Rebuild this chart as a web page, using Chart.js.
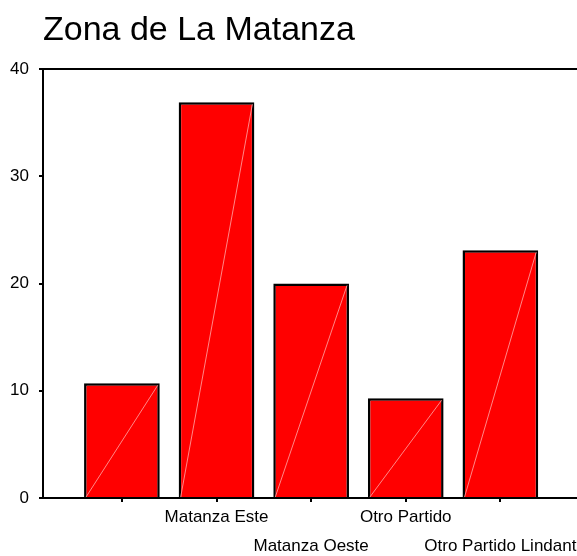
<!DOCTYPE html>
<html>
<head>
<meta charset="utf-8">
<script src="https://cdn.jsdelivr.net/npm/chart.js@4.4.1/dist/chart.umd.min.js"></script>
<style>
  html, body { margin: 0; padding: 0; background: #fff; }
  #wrap { width: 577px; height: 556px; }
</style>
</head>
<body>
<div id="wrap"><canvas id="chart"></canvas></div>
<script>
// Zona de La Matanza - percentages per zone
const zonas = ['', 'Matanza Este', 'Matanza Oeste', 'Otro Partido', 'Otro Partido Lindant'];
const porcentajes = [10.7, 36.9, 20.0, 9.3, 23.1];
const yTicks = [0, 10, 20, 30, 40];

const FONT = '"Liberation Sans", Arial, sans-serif';

// faint diagonal line across each bar (bottom-left to top-right)
const diagonalPlugin = {
    id: 'diagonal',
    afterDatasetsDraw(chart) {
        const ctx = chart.ctx;
        const meta = chart.getDatasetMeta(0);
        ctx.save();
        ctx.strokeStyle = 'rgba(255, 150, 150, 0.9)';
        ctx.lineWidth = 1;
        meta.data.forEach(bar => {
            const p = bar.getProps(['x', 'y', 'base', 'width'], true);
            ctx.beginPath();
            ctx.moveTo(p.x - p.width / 2 + 2, p.base);
            ctx.lineTo(p.x + p.width / 2 - 2, p.y + 2);
            ctx.stroke();
        });
        ctx.restore();
    }
};

new Chart(document.getElementById('chart'), {
    type: 'bar',
    data: {
        datasets: [{
            data: porcentajes.map((v, i) => ({ x: i, y: v })),
            backgroundColor: '#ff0000',
            borderColor: '#000000',
            borderWidth: { top: 2.5, left: 2.5, right: 2.5, bottom: 0 },
            borderSkipped: 'start',
            categoryPercentage: 1,
            barPercentage: 0.8
        }]
    },
    options: {
        responsive: true,
        maintainAspectRatio: false,
        animation: false,
        layout: { padding: 0 },
        plugins: {
            legend: { display: false },
            tooltip: { enabled: false },
            title: {
                display: true,
                text: 'Zona de La Matanza',
                align: 'start',
                fullSize: false,
                color: '#000',
                font: { family: FONT, size: 34, weight: 'normal', lineHeight: 1.2 },
                padding: { top: 10, bottom: 18.2 }
            }
        },
        scales: {
            x: {
                type: 'linear',
                offset: false,
                min: -0.834,
                max: 4.81,
                afterBuildTicks: s => { s.ticks = zonas.map((z, i) => ({ value: i })); },
                afterFit: s => { s.height = 58; },
                border: { color: '#000', width: 2 },
                grid: { offset: false, drawOnChartArea: false, tickColor: '#000', tickLength: 4, lineWidth: 2 },
                ticks: {
                    autoSkip: false,
                    maxRotation: 0,
                    padding: 0,
                    color: '#000',
                    font: { family: FONT, size: 17, lineHeight: 1.75 },
                    callback: v => {
                        const i = Math.round(v);
                        return i % 2 === 1 ? [zonas[i]] : ['', zonas[i]];
                    }
                }
            },
            y: {
                min: 0,
                max: 40,
                afterBuildTicks: s => { s.ticks = yTicks.map(v => ({ value: v })); },
                afterFit: s => { s.width = 43; },
                border: { color: '#000', width: 2 },
                grid: {
                    color: c => (c.tick && c.tick.value === 40 ? '#000' : 'rgba(0,0,0,0)'),
                    tickColor: '#000',
                    tickLength: 4,
                    lineWidth: 2
                },
                ticks: {
                    padding: 10,
                    color: '#000',
                    font: { family: FONT, size: 17 }
                }
            }
        }
    },
    plugins: [diagonalPlugin]
});
</script>
</body>
</html>
